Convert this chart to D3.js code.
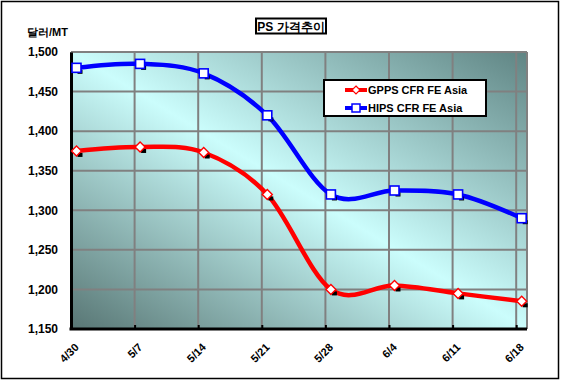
<!DOCTYPE html>
<html><head><meta charset="utf-8">
<script src="https://cdn.jsdelivr.net/npm/d3@7"></script>
<style>body{margin:0;background:#fff}svg{display:block;font-family:Arial,"Liberation Sans",sans-serif}</style>
</head><body>
<script>
const categories = ["4/30","5/7","5/14","5/21","5/28","6/4","6/11","6/18"];
const gppsValues = [1375,1380,1373,1320,1200,1205,1195,1185];
const hipsValues = [1480,1485,1473,1420,1320,1325,1320,1290];
const yTicks = [1150,1200,1250,1300,1350,1400,1450,1500];
const seriesNames = ["GPPS CFR FE Asia","HIPS CFR FE Asia"];
const titleText = "PS 가격추이";
const yLabel = "달러/MT";

const W=561,H=384;
const svg=d3.select("body").append("svg").attr("width",W).attr("height",H);
const defs=svg.append("defs");
const g=defs.append("linearGradient").attr("id","bg").attr("x1",0).attr("y1",1).attr("x2",1).attr("y2",0);
g.append("stop").attr("offset",0).attr("stop-color","#587674");
g.append("stop").attr("offset",0.5).attr("stop-color","#cbfdfc");
g.append("stop").attr("offset",1).attr("stop-color","#5f8483");

svg.append("rect").attr("x",1.5).attr("y",1.5).attr("width",557).attr("height",377).attr("fill","#fff").attr("stroke","#000").attr("stroke-width",1.5);

const L=71,R=527,T=52,B=329;
const x=d3.scalePoint().domain(categories).range([L,516.2]);
const off=5.5;
const y=d3.scaleLinear().domain([1150,1500]).range([B,T]);

svg.append("rect").attr("x",L).attr("y",T).attr("width",R-L).attr("height",B-T).attr("fill","url(#bg)");
// gridlines
svg.append("g").selectAll("line").data(yTicks).join("line")
 .attr("x1",L).attr("x2",R).attr("y1",d=>y(d)).attr("y2",d=>y(d)).attr("stroke","#808080").attr("stroke-width",2);
svg.append("g").selectAll("line").data(categories).join("line")
 .attr("x1",d=>x(d)).attr("x2",d=>x(d)).attr("y1",T).attr("y2",B).attr("stroke","#808080").attr("stroke-width",2);
svg.append("line").attr("x1",R).attr("x2",R).attr("y1",T).attr("y2",B).attr("stroke","#808080").attr("stroke-width",2);

// axes
const ya=svg.append("g").attr("transform",`translate(${L},0)`).call(d3.axisLeft(y).tickValues(yTicks).tickSize(0).tickPadding(13).tickFormat(d3.format(",")));
ya.select(".domain").attr("stroke","#000").attr("stroke-width",3);
ya.selectAll("text").attr("font-size",12).attr("font-weight","bold").attr("fill","#000");
const xa=svg.append("g").attr("transform",`translate(0,${B})`).call(d3.axisBottom(x).tickSize(4).tickSizeOuter(0));
xa.select(".domain").attr("stroke","#000").attr("stroke-width",3).attr("d",`M${L-1.5},0H${R}`);
xa.selectAll(".tick line").attr("stroke","#000").attr("stroke-width",2).attr("y1",-4).attr("y2",0);
xa.selectAll("text").attr("font-size",11).attr("font-weight","bold").attr("fill","#000")
 .attr("text-anchor","end").attr("dy",0).attr("y",0)
 .attr("transform","translate(8,19) rotate(-45)");

const line=d3.line().x(d=>x(d.c)+off).y(d=>y(d.v)).curve(d3.curveCardinal.tension(0));
const mk=(vals)=>categories.map((c,i)=>({c,v:vals[i]}));
const series=[{vals:hipsValues,color:"#0000ff",shape:"square"},{vals:gppsValues,color:"#ff0000",shape:"diamond"}];
series.forEach(s=>{
  const data=mk(s.vals);
  svg.append("path").datum(data).attr("d",line).attr("fill","none").attr("stroke",s.color).attr("stroke-width",4.5);
});
series.forEach(s=>{
  const data=mk(s.vals);
  const gg=svg.append("g");
  gg.selectAll(".sh").data(data).join("rect").attr("x",d=>x(d.c)+off+1).attr("y",d=>y(d.v)+2).attr("width",5).attr("height",4).attr("fill","#000");
  if(s.shape==="square"){
    gg.selectAll(".m").data(data).join("rect").attr("x",d=>x(d.c)+off-4.5).attr("y",d=>y(d.v)-4.5).attr("width",9).attr("height",9)
      .attr("fill","#fff").attr("stroke",s.color).attr("stroke-width",1.6);
  } else {
    gg.selectAll(".m").data(data).join("path").attr("transform",d=>`translate(${x(d.c)+off},${y(d.v)})`)
      .attr("d","M0,-5L5,0L0,5L-5,0Z").attr("fill","#fff").attr("stroke",s.color).attr("stroke-width",1.4);
  }
});

// legend
const lg=svg.append("g");
lg.append("rect").attr("x",324).attr("y",80).attr("width",162).attr("height",36).attr("fill","#fff").attr("stroke","#000").attr("stroke-width",2);
[{n:seriesNames[0],c:"#ff0000",s:"diamond",yy:90},{n:seriesNames[1],c:"#0000ff",s:"square",yy:108}].forEach(it=>{
  lg.append("line").attr("x1",345).attr("x2",367).attr("y1",it.yy).attr("y2",it.yy).attr("stroke",it.c).attr("stroke-width",4);
  if(it.s==="diamond") lg.append("path").attr("transform",`translate(356,${it.yy})`).attr("d","M0,-4L4,0L0,4L-4,0Z").attr("fill","#fff").attr("stroke",it.c).attr("stroke-width",1.2);
  else lg.append("rect").attr("x",352).attr("y",it.yy-4).attr("width",8).attr("height",8).attr("fill","#fff").attr("stroke",it.c).attr("stroke-width",1.5);
  lg.append("text").attr("x",368).attr("y",it.yy+4).attr("font-size",11).attr("font-weight","bold").attr("fill","#000").text(it.n);
});

// title
svg.append("rect").attr("x",256).attr("y",18.5).attr("width",70).attr("height",15).attr("fill","#fff").attr("stroke","#000").attr("stroke-width",2);
svg.append("text").attr("x",291).attr("y",30.5).attr("text-anchor","middle").attr("font-size",12).attr("font-weight","bold").attr("fill","#000").text(titleText);
svg.append("text").attr("x",27).attr("y",36).attr("font-size",11).attr("font-weight","bold").attr("fill","#000").text(yLabel);
</script>
</body></html>
